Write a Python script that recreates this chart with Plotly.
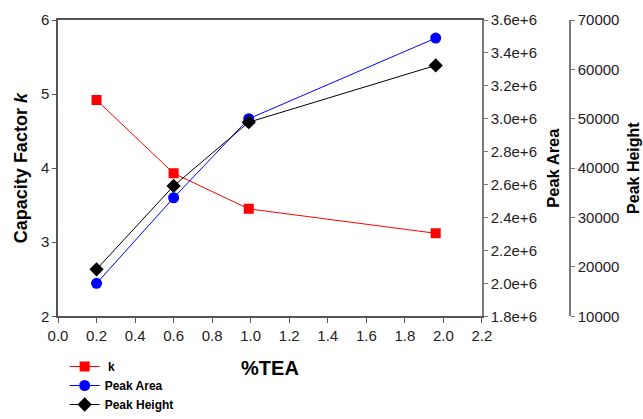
import plotly.graph_objects as go

tea = [0.2, 0.6, 0.99, 1.96]
k_vals = [4.92, 3.93, 3.45, 3.12]
peak_area = [2.0e6, 2.52e6, 3.0e6, 3.49e6]
peak_height = [19500, 36400, 49300, 60800]

FONT = "Liberation Sans, Arial, sans-serif"
TICKC = "#222222"
AXC = "#7a7a7a"

W, H = 643, 419
TOP, BOTTOM_PX = 20, 317  # plot area top / bottom in pixels

fig = go.Figure()
fig.add_trace(go.Scatter(x=tea, y=k_vals, name=" k", mode="lines+markers",
                         line=dict(color="#ff0000", width=1),
                         marker=dict(symbol="square", size=10, color="#ff0000"),
                         yaxis="y"))
fig.add_trace(go.Scatter(x=tea, y=peak_area, name="Peak Area", mode="lines+markers",
                         line=dict(color="#0000ff", width=1),
                         marker=dict(symbol="circle", size=11, color="#0000ff"),
                         yaxis="y2"))
fig.add_trace(go.Scatter(x=tea, y=peak_height, name="Peak Height", mode="lines+markers",
                         line=dict(color="#000000", width=1),
                         marker=dict(symbol="diamond", size=11, color="#000000"),
                         yaxis="y3"))

paper_h = H - TOP
ydom0 = (H - BOTTOM_PX) / paper_h

fig.update_layout(
    width=W, height=H,
    margin=dict(l=58, r=73, t=TOP, b=0),
    paper_bgcolor="white", plot_bgcolor="white",
    font=dict(family=FONT, color=TICKC, size=15),
    showlegend=True,
    legend=dict(x=0.013, y=(H - 352.5) / paper_h, xanchor="left", yanchor="top",
                font=dict(size=12, family=FONT, color="black", weight="bold"),
                bgcolor="rgba(0,0,0,0)", tracegroupgap=0),
    xaxis=dict(domain=[0, 0.828], range=[0, 2.2], dtick=0.2, tickformat=".1f",
               showgrid=False, zeroline=False, automargin=False,
               showline=True, linecolor="#555555", linewidth=1.5, mirror=True,
               ticks="outside", ticklen=5, tickcolor="#555555",
               tickfont=dict(size=15),
               title=dict(text="%TEA", font=dict(size=20, weight="bold", color="black"),
                          standoff=18)),
    yaxis=dict(domain=[ydom0, 1], range=[2, 6], dtick=1, showgrid=False, zeroline=False,
               automargin=False,
               showline=True, linecolor="#555555", linewidth=1.5,
               ticks="outside", ticklen=4, tickcolor="#555555",
               tickfont=dict(size=15),
               title=dict(text="Capacity Factor <i>k</i>",
                          font=dict(size=18, weight="bold", color="black"),
                          standoff=9)),
    yaxis2=dict(overlaying="y", side="right", anchor="x", automargin=False,
                range=[1.8e6, 3.6e6], dtick=0.2e6, tickformat=".1e",
                showgrid=False, zeroline=False,
                showline=True, linecolor=AXC, linewidth=1.5,
                ticks="outside", ticklen=4, tickcolor=AXC,
                tickfont=dict(size=15),
                title=dict(text="Peak Area", font=dict(size=16.5, weight="bold", color="black"),
                           standoff=11)),
    yaxis3=dict(overlaying="y", side="right", anchor="free", position=1.0, automargin=False,
                range=[10000, 70000], dtick=10000, tickformat="d",
                showgrid=False, zeroline=False,
                showline=True, linecolor=AXC, linewidth=1.5,
                ticks="outside", ticklen=4, tickcolor=AXC,
                tickfont=dict(size=15),
                title=dict(text="Peak Height", font=dict(size=16, weight="bold", color="black"),
                           standoff=8)),
)

fig.write_html("out.html", config={"displayModeBar": False},
               post_script="document.body.style.margin='0';document.body.style.padding='0';")
